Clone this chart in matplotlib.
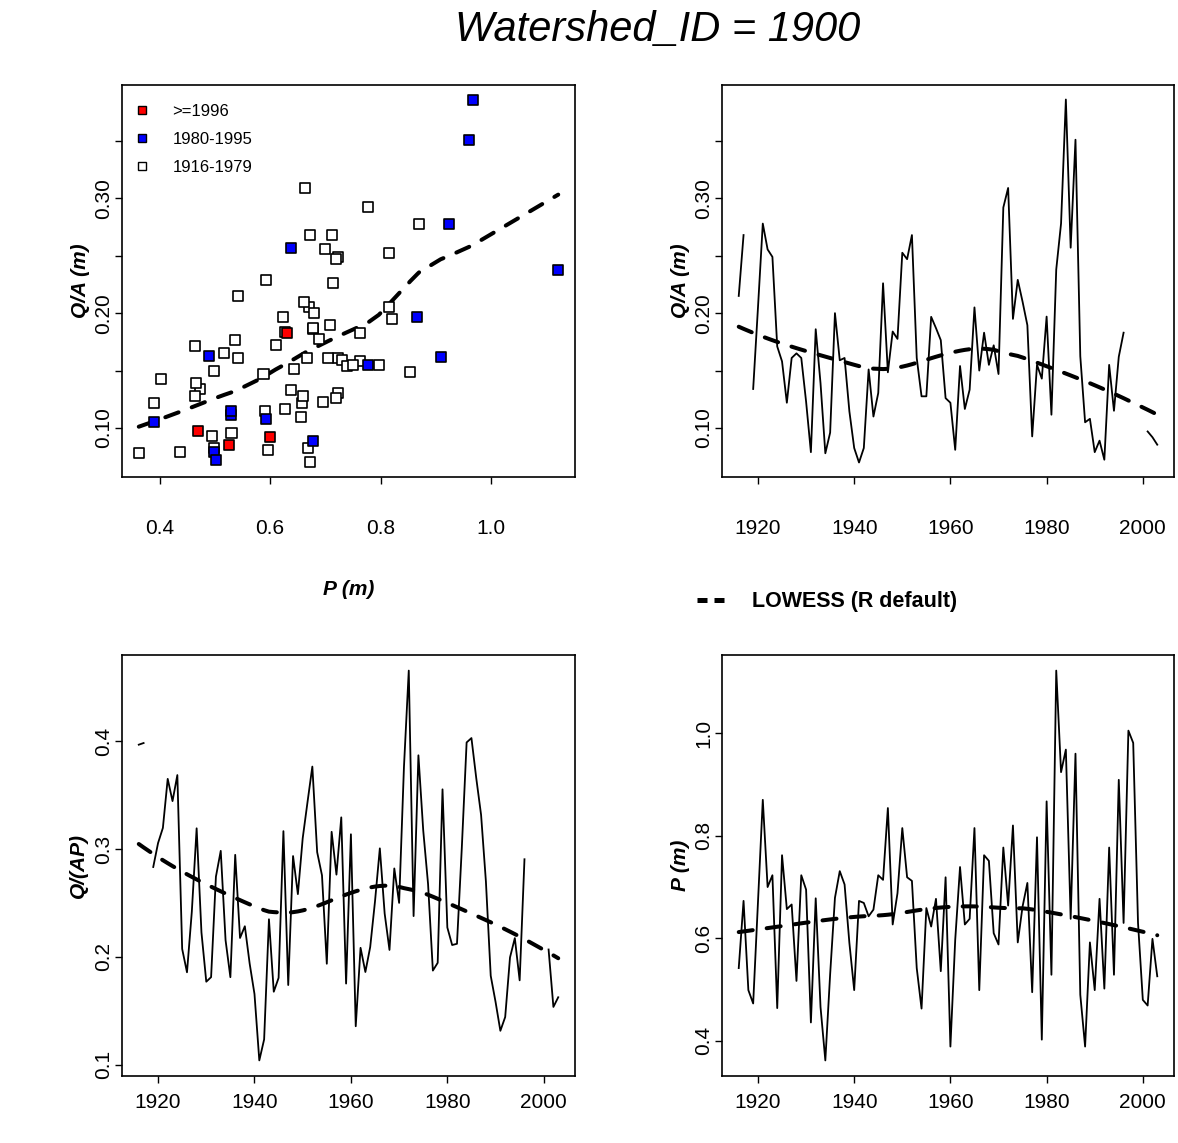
import numpy as np
import matplotlib
matplotlib.use("Agg")
import matplotlib.pyplot as plt
from matplotlib.lines import Line2D

plt.rcParams["font.family"] = ["Liberation Sans", "DejaVu Sans"]

# annual values, watershed 1900 (NaN = no runoff record)
years = np.arange(1916, 2004)

runoff = np.array([
    0.215, 0.268, np.nan, 0.134, 0.205, 0.278, 0.2555, 0.249, 0.171, 0.158,
    0.122, 0.161, 0.165, 0.161, 0.123, 0.079, 0.186, 0.139, 0.078, 0.096,
    0.200, 0.159, 0.161, 0.1145, 0.0826, 0.070, 0.0826, 0.151, 0.110, 0.1305,
    0.226, 0.1485, 0.184, 0.1776, 0.2526, 0.247, 0.268, 0.161, 0.1276, 0.1276,
    0.1968, 0.187, 0.1765, 0.126, 0.122, 0.081, 0.154, 0.1166, 0.1334, 0.205,
    0.150, 0.183, 0.155, 0.172, 0.147, 0.292, 0.309, 0.195, 0.229, 0.210,
    0.1895, 0.0927, 0.155, 0.143, 0.197, 0.1116, 0.238, 0.278, 0.386, 0.257,
    0.351, 0.1625, 0.105, 0.108, 0.079, 0.089, 0.0724, 0.155, 0.115, 0.162,
    0.183, np.nan, np.nan, np.nan, np.nan, 0.097, 0.092, 0.0855,
])

precip = np.array([
    0.542, 0.673, 0.499, 0.473, 0.671, 0.870, 0.700, 0.723, 0.464, 0.762,
    0.657, 0.666, 0.517, 0.723, 0.695, 0.436, 0.678, 0.466, 0.362, 0.530,
    0.679, 0.731, 0.705, 0.591, 0.499, 0.673, 0.669, 0.643, 0.656, 0.723,
    0.714, 0.854, 0.627, 0.688, 0.815, 0.719, 0.712, 0.542, 0.463, 0.659,
    0.623, 0.677, 0.536, 0.719, 0.389, 0.597, 0.739, 0.627, 0.638, 0.815,
    0.499, 0.762, 0.751, 0.610, 0.588, 0.777, 0.664, 0.820, 0.592, 0.662,
    0.708, 0.495, 0.797, 0.4025, 0.867, 0.529, 1.122, 0.924, 0.968, 0.638,
    0.960, 0.490, 0.389, 0.592, 0.499, 0.677, 0.502, 0.777, 0.529, 0.909,
    0.630, 1.005, 0.981, 0.630, 0.480, 0.469, 0.599, 0.526,
])

runoff_ratio = runoff / precip

period_labels = [">=1996", "1980-1995", "1916-1979"]
period_colors = ["red", "blue", "white"]


def r_lowess(x, y, f=2 / 3, iters=3):
    # same recipe as R's lowess(): tricube weights, local line, bisquare robustness
    order = np.argsort(x, kind="mergesort")
    x = np.asarray(x, float)[order]
    y = np.asarray(y, float)[order]
    n = len(x)
    ns = max(min(int(f * n + 1e-7), n), 2)
    xrange = x[-1] - x[0]
    rw = np.ones(n)
    fit = np.zeros(n)
    for it in range(iters + 1):
        for i in range(n):
            d = np.abs(x - x[i])
            h = np.sort(d)[ns - 1]
            w = np.zeros(n)
            inside = d <= 0.999 * h
            w[inside] = np.where(d[inside] <= 0.001 * h, 1.0,
                                 (1 - (d[inside] / h) ** 3) ** 3) if h > 0 else 1.0
            w *= rw
            if w.sum() <= 0:
                fit[i] = y[i]
                continue
            w = w / w.sum()
            if h > 0:
                a = np.sum(w * x)
                c = np.sum(w * (x - a) ** 2)
                if np.sqrt(c) > 0.001 * xrange:
                    w = w * ((x[i] - a) / c * (x - a) + 1)
            fit[i] = np.sum(w * y)
        if it == iters:
            break
        res = np.abs(y - fit)
        cmad = 6 * np.median(res)
        if cmad < 1e-7 * res.mean():
            break
        rw = np.where(res <= 0.001 * cmad, 1.0,
                      np.where(res <= 0.999 * cmad, (1 - (res / cmad) ** 2) ** 2, 0.0))
    return x, fit


W, H = 1178, 1143
fig = plt.figure(figsize=(W / 100, H / 100), dpi=100)


def panel(left, top, right, bottom):
    return fig.add_axes([left / W, 1 - bottom / H, (right - left) / W, (bottom - top) / H])


ax_sc = panel(122, 85, 575, 477)
ax_qa = panel(722, 85, 1174, 477)
ax_qap = panel(122, 655, 575, 1076)
ax_p = panel(722, 655, 1174, 1076)

smooth_kw = dict(color="black", lw=2.9, dashes=(3.5, 3.5), dash_capstyle="round",
                 solid_capstyle="round")
line_kw = dict(color="black", lw=1.3)
lab_kw = dict(fontsize=15, fontweight="bold", style="italic")

ok = ~np.isnan(runoff)

# scatter Q/A vs P
face = np.where(years >= 1996, period_colors[0],
                np.where(years >= 1980, period_colors[1], period_colors[2]))
ax_sc.scatter(precip[ok], runoff[ok], marker="s", s=52, c=face[ok],
              edgecolors="black", linewidths=1.2, zorder=3)
ax_sc.plot(*r_lowess(precip[ok], runoff[ok]), **smooth_kw)
handles = [Line2D([], [], ls="none", marker="s", ms=5.5, mfc=c, mec="black", mew=1.0)
           for c in period_colors]
ax_sc.legend(handles, period_labels, loc="upper left", bbox_to_anchor=(0.03, 0.952),
             frameon=False, fontsize=12, handlelength=0.8, handletextpad=1.4,
             labelspacing=0.78, borderpad=0, borderaxespad=0)
ax_sc.set_xticks([0.4, 0.6, 0.8, 1.0])
ax_sc.set_xticklabels(["0.4", "0.6", "0.8", "1.0"])
ax_sc.set_xlabel("P (m)", va="center", **lab_kw)
ax_sc.xaxis.set_label_coords(0.5, -(590 - 477) / 392)

# time series
ax_qa.plot(years, runoff, **line_kw)
ax_qa.plot(*r_lowess(years[ok], runoff[ok]), **smooth_kw)

ax_qap.plot(years, runoff_ratio, **line_kw)
ax_qap.plot(*r_lowess(years[ok], runoff_ratio[ok]), **smooth_kw)

ax_p.plot(years, precip, **line_kw)
ax_p.plot(*r_lowess(years, precip), **smooth_kw)

for ax in (ax_sc, ax_qa):
    ax.set_yticks(np.arange(0.10, 0.401, 0.05))
    ax.set_yticklabels(["0.10", "", "0.20", "", "0.30", "", "0.40"])
    ax.set_ylabel("Q/A (m)", va="center", **lab_kw)
ax_qap.set_yticks([0.1, 0.2, 0.3, 0.4])
ax_qap.set_yticklabels(["0.1", "0.2", "0.3", "0.4"])
ax_qap.set_ylabel("Q/(AP)", va="center", **lab_kw)
ax_p.set_yticks([0.4, 0.6, 0.8, 1.0])
ax_p.set_yticklabels(["0.4", "0.6", "0.8", "1.0"])
ax_p.set_ylabel("P (m)", va="center", **lab_kw)

for ax in (ax_qa, ax_qap, ax_p):
    ax.set_xticks([1920, 1940, 1960, 1980, 2000])

ax_sc.yaxis.set_label_coords(-42 / 453, 0.5)
ax_qa.yaxis.set_label_coords(-42 / 452, 0.5)
ax_qap.yaxis.set_label_coords(-44 / 453, 0.5)
ax_p.yaxis.set_label_coords(-42 / 452, 0.5)

for ax in (ax_sc, ax_qa, ax_qap, ax_p):
    ax.margins(x=0.04, y=0.04)
    for sp in ax.spines.values():
        sp.set_linewidth(1.2)
    ax.tick_params(direction="out", length=5, width=1, labelsize=15)
    ax.tick_params(axis="y", pad=1.5)
    for t in ax.get_yticklabels():
        t.set_rotation(90)
        t.set_va("center")

for ax in (ax_sc, ax_qa):
    ax.tick_params(axis="x", pad=25)
for ax in (ax_qap, ax_p):
    ax.tick_params(axis="x", pad=7.5)

fig.text(658 / W, 1 - 30 / H, "Watershed_ID = 1900", fontsize=30, style="italic",
         ha="center", va="center")

lowess_handle = Line2D([], [], color="black", lw=3.6, dashes=(2, 1.4), dash_capstyle="butt")
fig.legend([lowess_handle], ["LOWESS (R default)"], loc="center left",
           bbox_to_anchor=(697 / W, 1 - 602 / H), frameon=False,
           prop=dict(size=15.5, weight="bold"), handlelength=1.26, handletextpad=1.3,
           borderpad=0, borderaxespad=0)

fig.savefig("out.png", dpi=100)
